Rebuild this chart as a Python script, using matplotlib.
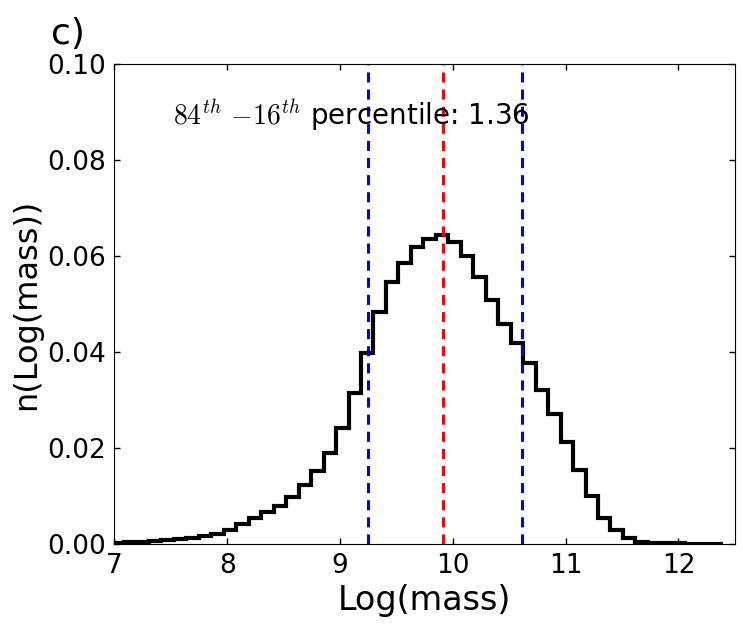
import numpy as np
import matplotlib
matplotlib.use("Agg")
import matplotlib.pyplot as plt

plt.rcParams['mathtext.fontset'] = 'cm'
plt.rcParams['font.family'] = 'DejaVu Sans'

# histogram of log(mass): 50 bins
bin_start = 6.864
bin_width = 0.11057
heights = [0.0002, 0.0003, 0.0004, 0.0005, 0.0006, 0.0008, 0.0010, 0.0013, 0.0017, 0.0021,
           0.0029, 0.0042, 0.0055, 0.0067, 0.0079, 0.0099, 0.0123, 0.0152, 0.0189, 0.0242,
           0.0314, 0.0399, 0.0483, 0.0545, 0.0585, 0.0618, 0.0635, 0.0643, 0.0629, 0.0600,
           0.0556, 0.0508, 0.0458, 0.0418, 0.0378, 0.0322, 0.0272, 0.0213, 0.0154, 0.0101,
           0.0054, 0.0029, 0.0012, 0.0005, 0.0003, 0.0002, 0.0002, 0.0001, 0.0001, 0.0001]
edges = bin_start + bin_width * np.arange(len(heights) + 1)

p16 = 9.25
p50 = 9.915
p84 = 10.61

fig = plt.figure(figsize=(7.43, 6.27), dpi=100)
ax = fig.add_axes([0.154, 0.132, 0.835, 0.766])

ax.stairs(heights, edges, color='black', linewidth=3, baseline=0)
for xv, c in [(p16, 'blue'), (p50, 'red'), (p84, 'blue')]:
    ax.axvline(xv, color=c, linestyle='--', linewidth=2.2, dashes=(3.3, 2.3))

ax.text(7.52, 0.0873, r'$84^{th}$ $-16^{th}$ percentile: %.2f' % (p84 - p16), fontsize=20)

ax.set_xlim(7, 12.5)
ax.set_ylim(0, 0.10)
ax.set_xticks([7, 8, 9, 10, 11, 12])
ax.set_yticks([0.0, 0.02, 0.04, 0.06, 0.08, 0.10])
ax.set_yticklabels(['0.00', '0.02', '0.04', '0.06', '0.08', '0.10'])
ax.tick_params(direction='in', top=True, right=True, length=4, width=1, labelsize=19, pad=6)
ax.set_xlabel('Log(mass)', fontsize=24)
ax.set_ylabel('n(Log(mass))', fontsize=23)

fig.text(0.068, 0.93, 'c)', fontsize=26)

fig.savefig('out.png', dpi=100)
